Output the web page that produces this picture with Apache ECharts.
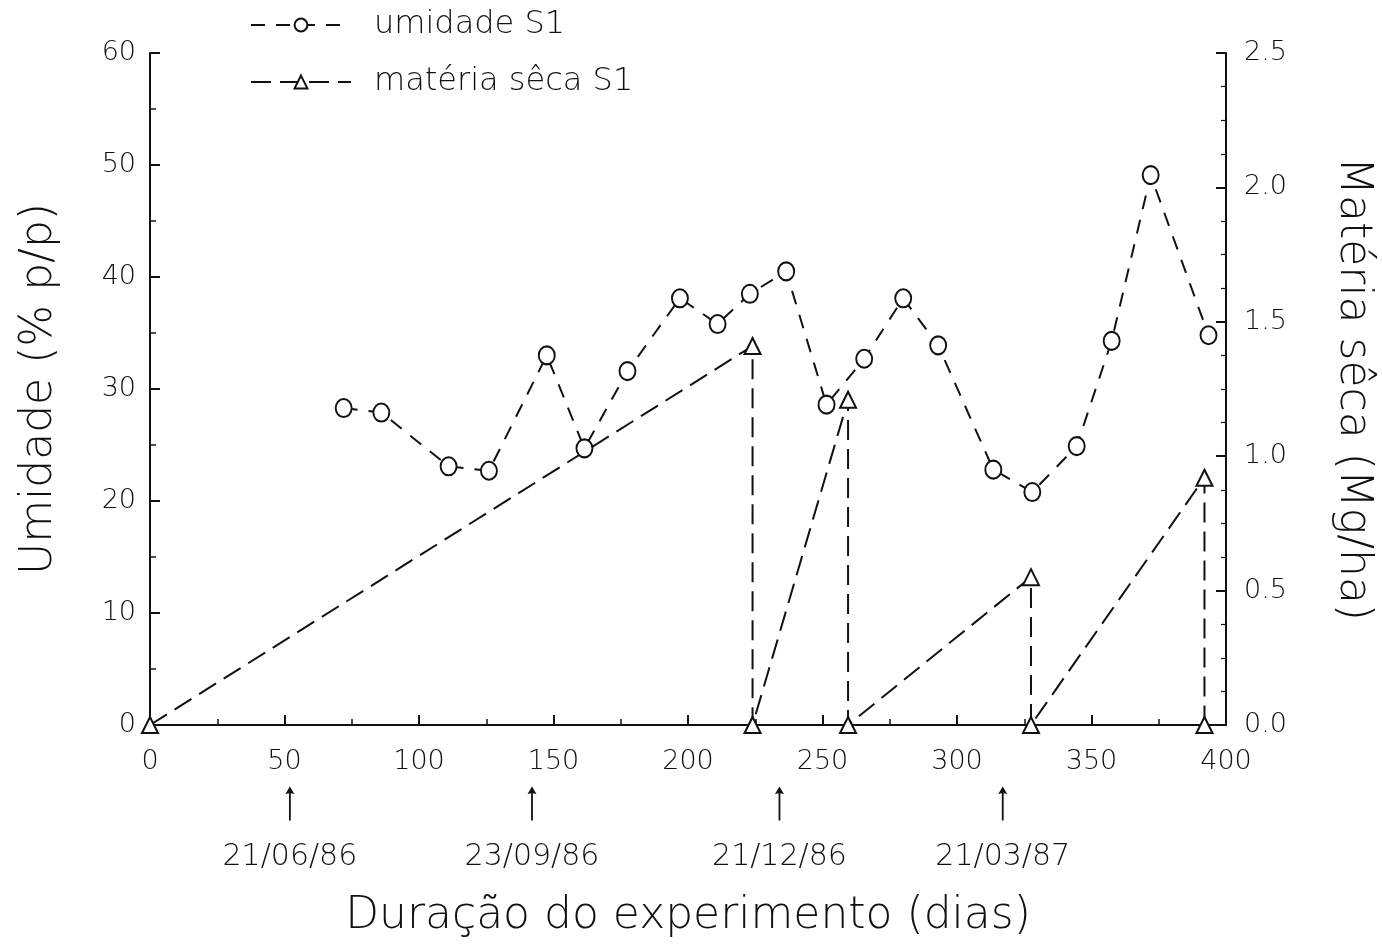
<!DOCTYPE html>
<html>
<head>
<meta charset="utf-8">
<script src="https://cdn.jsdelivr.net/npm/echarts@6/dist/echarts.min.js"></script>
<style>
  html, body { margin: 0; padding: 0; background: #fff; }
  #chart { width: 1382px; height: 946px; }
</style>
</head>
<body>
<div id="chart"></div>
<script>
// umidade S1 (left axis, % p/p)
const umidadeDias = [72, 86, 111, 126, 147.5, 161.5, 177.5, 197, 211, 223, 236.5, 251.5, 265.5, 280, 293, 313.5, 328, 344.5, 357.5, 372, 393.5]
const umidadeValores = [28.3, 27.9, 23.1, 22.7, 33.0, 24.7, 31.6, 38.1, 35.8, 38.5, 40.5, 28.6, 32.7, 38.1, 33.9, 22.8, 20.8, 24.9, 34.3, 49.1, 34.8]

// materia seca S1 (right axis, Mg/ha)
const secaDias = [0, 224, 224, 259.5, 259.5, 327.5, 327.5, 392, 392]
const secaValores = [0, 1.41, 0, 1.21, 0, 0.55, 0, 0.92, 0]

// date marks under the x axis
const marcaDias = [52, 142, 234, 317]
const marcaDatas = ['21/06/86', '23/09/86', '21/12/86', '21/03/87']
const marcaY = -7

const fonte = '"DejaVu Sans", sans-serif'
const peso = 200
const preto = '#111'

const chart = echarts.init(document.getElementById('chart'))

const option = {
  animation: false,
  backgroundColor: '#fff',
  textStyle: { fontFamily: fonte, color: preto, fontWeight: peso },
  grid: { left: 150, right: 150, top: 53, bottom: 221 },
  legend: {
    data: ['umidade S1', 'matéria sêca S1'],
    orient: 'vertical',
    left: 245,
    top: 4,
    itemWidth: 100,
    itemHeight: 16,
    itemGap: 25,
    textStyle: { fontSize: 32, fontFamily: fonte, fontWeight: peso, color: preto, padding: [0, 0, 0, 18] }
  },
  xAxis: {
    type: 'value',
    min: 0,
    max: 400,
    interval: 50,
    name: 'Duração do experimento (dias)',
    nameLocation: 'middle',
    nameGap: 170,
    nameTextStyle: { fontSize: 44, fontFamily: fonte, fontWeight: peso, color: preto },
    axisLine: { lineStyle: { color: preto, width: 2 } },
    axisTick: { inside: true, length: 10, lineStyle: { color: preto, width: 2 } },
    minorTick: { show: true, splitNumber: 2, length: 6, lineStyle: { color: preto, width: 1.5 } },
    axisLabel: { fontSize: 27, fontWeight: peso, color: preto, margin: 23 },
    splitLine: { show: false }
  },
  yAxis: [
    {
      type: 'value',
      min: 0,
      max: 60,
      interval: 10,
      name: 'Umidade (% p/p)',
      nameLocation: 'middle',
      nameRotate: 90,
      nameGap: 88,
      nameTextStyle: { fontSize: 44, fontFamily: fonte, fontWeight: peso, color: preto },
      axisLine: { show: true, lineStyle: { color: preto, width: 2 } },
      axisTick: { show: true, inside: true, length: 10, lineStyle: { color: preto, width: 2 } },
      minorTick: { show: true, splitNumber: 2, length: 6, lineStyle: { color: preto, width: 1.5 } },
      axisLabel: { fontSize: 27, fontWeight: peso, color: preto, margin: 14 },
      splitLine: { show: false }
    },
    {
      type: 'value',
      min: 0,
      max: 2.5,
      interval: 0.5,
      position: 'right',
      name: 'Matéria sêca (Mg/ha)',
      nameLocation: 'middle',
      nameRotate: -90,
      nameGap: 104,
      nameTextStyle: { fontSize: 44, fontFamily: fonte, fontWeight: peso, color: preto },
      axisLine: { show: true, lineStyle: { color: preto, width: 2 } },
      axisTick: { show: true, inside: true, length: 10, lineStyle: { color: preto, width: 2 } },
      minorTick: { show: true, splitNumber: 4, length: 5, lineStyle: { color: preto, width: 1.2 } },
      axisLabel: { fontSize: 27, fontWeight: peso, color: preto, margin: 18, formatter: v => v.toFixed(1) },
      splitLine: { show: false }
    }
  ],
  series: [
    {
      name: 'umidade S1',
      type: 'line',
      yAxisIndex: 0,
      data: umidadeDias.map((d, i) => [d, umidadeValores[i]]),
      symbol: 'circle',
      symbolSize: [16, 18],
      itemStyle: { color: '#fff', borderColor: preto, borderWidth: 2 },
      lineStyle: { color: preto, width: 2, type: [14, 11] },
      z: 3
    },
    {
      name: 'matéria sêca S1',
      type: 'line',
      yAxisIndex: 1,
      data: secaDias.map((d, i) => [d, secaValores[i]]),
      symbol: 'triangle',
      symbolSize: 16,
      itemStyle: { color: '#fff', borderColor: preto, borderWidth: 2 },
      lineStyle: { color: preto, width: 2, type: [20, 9] },
      z: 2
    },
    {
      name: 'datas',
      type: 'scatter',
      yAxisIndex: 0,
      clip: false,
      silent: true,
      data: marcaDias.map((d, i) => [d, marcaY, marcaDatas[i]]),
      symbol: 'path://M5,0 L10,9 L6,8 L6,40 L4,40 L4,8 L0,9 Z',
      symbolSize: [9, 34],
      itemStyle: { color: preto, opacity: 1 },
      label: {
        show: true,
        position: 'bottom',
        distance: 22,
        fontSize: 30,
        fontFamily: fonte,
        fontWeight: peso,
        color: preto,
        formatter: p => p.data[2]
      }
    }
  ]
}

chart.setOption(option)
</script>
</body>
</html>
